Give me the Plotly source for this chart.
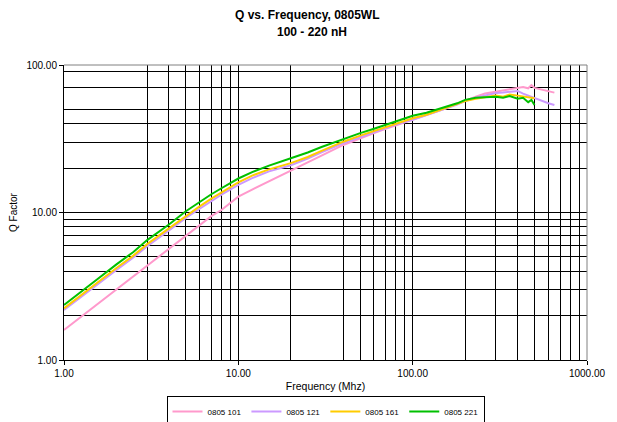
import plotly.graph_objects as go

# ---- data ----
freq_101 = [1, 1.2, 1.5, 2, 2.5, 3, 4, 5, 6, 7, 8, 10, 12, 15, 20, 25, 30, 40, 50, 60, 70, 80, 100,
            120, 150, 180, 200, 230, 260, 300, 330, 360, 400, 430, 460, 480, 500, 550, 600, 650]
q_101 = [1.6, 1.89, 2.32, 3.03, 3.7, 4.4, 5.7, 7.0, 8.2, 9.45, 10.4, 12.8, 14.3, 16.3, 19.4, 22.0, 24.3,
         28.7, 32.0, 34.6, 37.0, 39.0, 42.3, 45.3, 50.0, 54.5, 57.5, 61.0, 64.0, 66.0, 67.5, 69.0, 70.0,
         71.0, 69.5, 73.0, 70.0, 68.0, 66.5, 65.0]

freq_121 = [1, 1.2, 1.5, 2, 2.5, 3, 4, 5, 6, 7, 8, 10, 12, 15, 20, 25, 30, 40, 50, 60, 70, 80, 100,
            120, 150, 180, 200, 230, 260, 300, 330, 360, 400, 430, 460, 500, 550, 600, 650]
q_121 = [2.18, 2.58, 3.13, 4.08, 4.95, 5.9, 7.55, 9.2, 10.6, 12.0, 13.2, 15.4, 17.1, 19.0, 20.9, 23.2,
         25.6, 29.5, 32.5, 35.0, 37.4, 39.4, 42.5, 45.5, 50.0, 54.0, 57.0, 60.0, 62.0, 64.5, 65.0, 66.0,
         66.7, 64.0, 62.0, 60.0, 57.0, 55.0, 53.5]

freq_161 = [1, 1.2, 1.5, 2, 2.5, 3, 4, 5, 6, 7, 8, 10, 12, 15, 20, 25, 30, 40, 50, 60, 70, 80, 100,
            120, 150, 180, 200, 230, 260, 300, 330, 360, 400, 430, 460, 500]
q_161 = [2.24, 2.65, 3.22, 4.2, 5.1, 6.1, 7.8, 9.5, 11.0, 12.4, 13.6, 16.0, 17.8, 19.6, 21.6, 23.8, 26.2,
         30.2, 33.2, 35.6, 38.0, 40.0, 43.5, 46.0, 50.3, 54.0, 57.0, 59.0, 60.5, 62.0, 61.0, 63.0, 62.0,
         61.0, 60.0, 59.5]

freq_221 = [1, 1.2, 1.5, 2, 2.5, 3, 4, 5, 6, 7, 8, 10, 12, 15, 20, 25, 30, 40, 50, 60, 70, 80, 100,
            120, 150, 180, 200, 230, 260, 300, 330, 360, 400, 430, 460, 480, 500]
q_221 = [2.36, 2.8, 3.42, 4.45, 5.4, 6.5, 8.3, 10.2, 11.8, 13.3, 14.6, 17.0, 18.8, 20.8, 23.3, 25.5, 27.8,
         31.5, 34.5, 37.0, 39.3, 41.5, 45.3, 47.5, 51.5, 55.0, 58.0, 60.0, 60.5, 61.0, 60.0, 61.5, 59.0,
         60.0, 56.0, 58.0, 53.5]

series_names = ["0805 101", "0805 121", "0805 161", "0805 221"]
series_colors = ["#FF99CC", "#CC99FF", "#FFCC00", "#00C000"]

x_major = [1, 10, 100, 1000]
x_major_text = ["1.00", "10.00", "100.00", "1000.00"]
x_minor = [3, 4, 5, 6, 7, 8, 9, 20, 40, 50, 60, 70, 80, 90, 200, 300, 400, 500, 600, 700, 800, 900]
y_major = [1, 10, 100]
y_major_text = ["1.00", "10.00", "100.00"]
y_minor = [2, 3, 4, 5, 6, 7, 8, 9, 20, 30, 40, 50, 70, 90]

title_line1 = "Q vs. Frequency, 0805WL"
title_line2 = "100 - 220 nH"

FONT = "Liberation Sans, Arial, sans-serif"

fig = go.Figure()
for fx, qy, name, col in zip([freq_101, freq_121, freq_161, freq_221],
                             [q_101, q_121, q_161, q_221], series_names, series_colors):
    fig.add_trace(go.Scatter(x=fx, y=qy, mode="lines", name=name,
                             line=dict(color=col, width=2)))

# the page adds an 8px body margin, so the figure is 8px smaller and shifted
fig.update_layout(
    width=609, height=414,
    margin=dict(l=56, r=30, t=57, b=62, autoexpand=False),
    paper_bgcolor="white", plot_bgcolor="white",
    font=dict(family=FONT, size=10, color="black"),
    showlegend=True,
    legend=dict(orientation="h", x=0.5, xanchor="center", y=-0.122, yanchor="top",
                bordercolor="black", borderwidth=1, bgcolor="white",
                font=dict(family=FONT, size=8, color="black"),
                itemwidth=30, tracegroupgap=0),
)

# two-line bold title
fig.add_annotation(text="<b>" + title_line1 + "</b>", xref="paper", yref="paper",
                   x=0.465, y=(360 - 15) / 295, xanchor="center", yanchor="middle",
                   showarrow=False, font=dict(family=FONT, size=12, color="black"))
fig.add_annotation(text="<b>" + title_line2 + "</b>", xref="paper", yref="paper",
                   x=0.474, y=(360 - 32) / 295, xanchor="center", yanchor="middle",
                   showarrow=False, font=dict(family=FONT, size=12, color="black"))

fig.update_xaxes(
    type="log", range=[0, 3], automargin=False,
    tickmode="array", tickvals=x_major, ticktext=x_major_text,
    ticks="outside", ticklen=4, tickcolor="black",
    showline=True, linecolor="black", linewidth=1,
    showgrid=True, gridcolor="black", gridwidth=1,
    zeroline=False,
    minor=dict(tickmode="array", tickvals=x_minor, showgrid=True, gridcolor="black",
               gridwidth=1, ticks=""),
    title=dict(text="Frequency (Mhz)", font=dict(family=FONT, size=10.5), standoff=4),
    tickfont=dict(family=FONT, size=10),
)
fig.update_yaxes(
    type="log", range=[0, 2], automargin=False,
    tickmode="array", tickvals=y_major, ticktext=y_major_text,
    ticks="outside", ticklen=4, tickcolor="black",
    showline=True, linecolor="black", linewidth=1,
    showgrid=True, gridcolor="black", gridwidth=1,
    zeroline=False,
    minor=dict(tickmode="array", tickvals=y_minor, showgrid=True, gridcolor="black",
               gridwidth=1, ticks=""),
    title=dict(text="Q Factor", font=dict(family=FONT, size=10), standoff=14),
    tickfont=dict(family=FONT, size=10),
)

# gray top and right border of the plot area
fig.add_shape(type="line", xref="paper", yref="paper", x0=0, x1=1, y0=1, y1=1,
              line=dict(color="#808080", width=1), layer="above")
fig.add_shape(type="line", xref="paper", yref="paper", x0=1, x1=1, y0=0, y1=1,
              line=dict(color="#808080", width=1), layer="above")

fig.write_html("out.html")
